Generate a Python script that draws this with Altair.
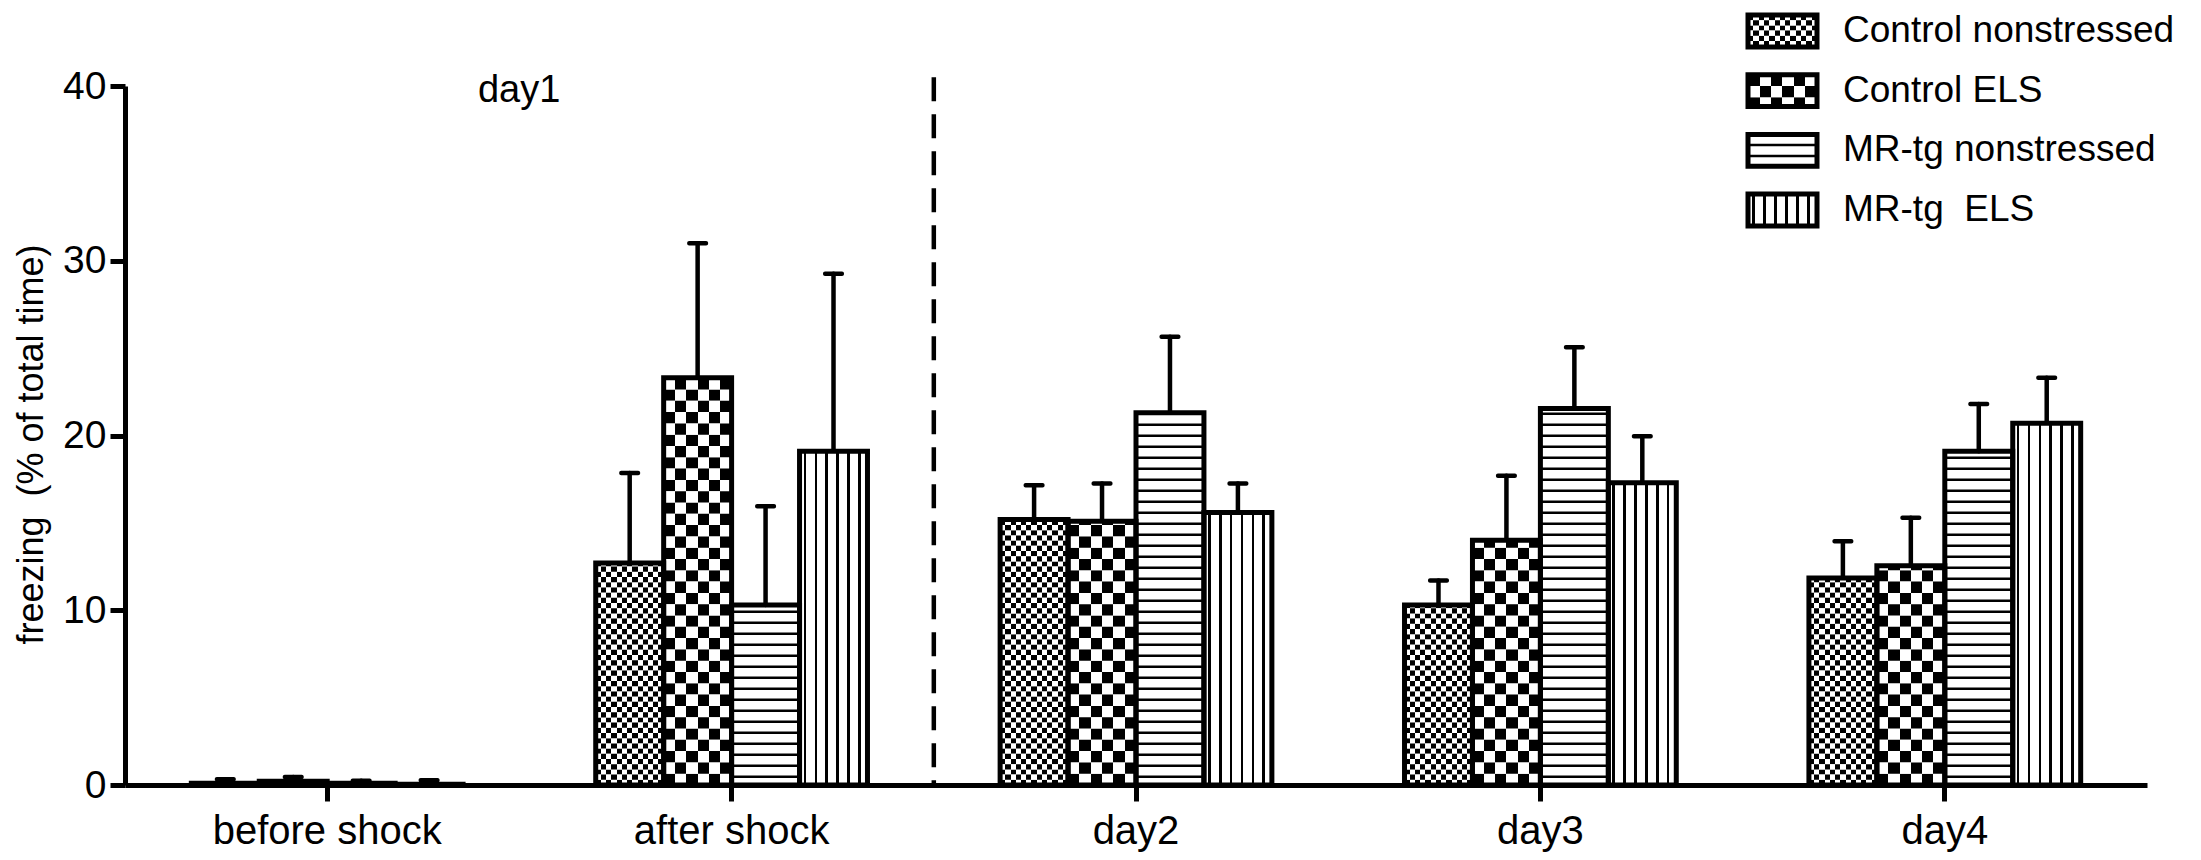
import altair as alt
import pandas as pd

# ---------------- data ----------------
categories = ["before shock", "after shock", "day2", "day3", "day4"]
series = ["Control nonstressed", "Control ELS", "MR-tg nonstressed", "MR-tg \u00a0ELS"]

cn_mean = [0.10, 12.7, 15.2, 10.3, 11.85]
cn_top = [0.33, 17.85, 17.15, 11.7, 13.95]
ce_mean = [0.22, 23.3, 15.1, 14.0, 12.55]
ce_top = [0.46, 31.0, 17.25, 17.7, 15.3]
mn_mean = [0.10, 10.3, 21.3, 21.55, 19.1]
mn_top = [0.25, 15.95, 25.65, 25.05, 21.8]
me_mean = [0.05, 19.1, 15.6, 17.3, 20.7]
me_top = [0.27, 29.25, 17.25, 19.95, 23.3]

y_title = "freezing \u00a0(% of total time)"
y_ticks = [0, 10, 20, 30, 40]
group_label = "day1"

means = [cn_mean, ce_mean, mn_mean, me_mean]
tops = [cn_top, ce_top, mn_top, me_top]

# ---------------- layout constants ----------------
W, H = 2022, 699
PX_MAIN = H / 40.0          # pixels per data unit (main)
PX_LEG = 60.0               # pixels per legend row unit
FONT = "Liberation Sans"

rows = []
for s, m, t in zip(series, means, tops):
    for c, v, tp in zip(categories, m, t):
        rows.append({"cat": c, "series": s, "value": v, "top": tp})
df_main = pd.DataFrame(rows)

# pattern definitions (pixel sizes)
SMALL_PX, SMALL_N = 5.2, 13
BIG_PX, BIG_N = 11.3, 6
LINE_P, LINE_T = 11.0, 2.5


def pattern_rows(kind_idx, lo, hi, ppu, line_off):
    out = []
    if kind_idx in (0, 1):
        step = (SMALL_PX if kind_idx == 0 else BIG_PX) / ppu
        tag = "s" if kind_idx == 0 else "b"
        k = 0
        while lo + k * step < hi - 1e-9:
            out.append({"y0": lo + k * step, "y1": min(lo + (k + 1) * step, hi),
                        "kind": f"{tag}{k % 2}"})
            k += 1
    elif kind_idx == 2:
        p, t, o = LINE_P / ppu, LINE_T / ppu, line_off / ppu
        k = 0
        while lo + o + k * p < hi - 2.0 / ppu:
            out.append({"y0": lo + o + k * p, "y1": min(lo + o + k * p + t, hi),
                        "kind": "hl"})
            k += 1
    else:
        out.append({"y0": lo, "y1": hi, "kind": "vl"})
    return out


pat = []
for i, (s, m) in enumerate(zip(series, means)):
    for c, v in zip(categories, m):
        for r in pattern_rows(i, 0.0, v, PX_MAIN, 7.0):
            r.update({"cat": c, "series": s})
            pat.append(r)
df_pat = pd.DataFrame(pat)

half = 16.0 / PX_LEG
leg = []
legpat = []
for i, s in enumerate(series):
    leg.append({"series": s, "idx": i, "lo": i - half, "hi": i + half})
    for r in pattern_rows(i, i - half, i + half, PX_LEG, 9.5):
        r.update({"series": s})
        legpat.append(r)
df_leg = pd.DataFrame(leg)
df_legpat = pd.DataFrame(legpat)


# ---------------- gradients (fill patterns) ----------------
def checker_grad(n, start_black):
    stops = []
    for i in range(n):
        black = (i % 2 == 0) == start_black
        col = "black" if black else "white"
        stops.append(alt.GradientStop(color=col, offset=i / n))
        stops.append(alt.GradientStop(color=col, offset=(i + 1) / n))
    return alt.LinearGradient(gradient="linear", stops=stops, x1=0, x2=1, y1=0, y2=0)


def vline_grad():
    stops = [alt.GradientStop(color="white", offset=0)]
    h = 0.019
    for k in range(6):
        c = 0.08 + 0.16 * k
        stops += [alt.GradientStop(color="white", offset=c - h),
                  alt.GradientStop(color="black", offset=c - h),
                  alt.GradientStop(color="black", offset=c + h),
                  alt.GradientStop(color="white", offset=c + h)]
    stops.append(alt.GradientStop(color="white", offset=1))
    return alt.LinearGradient(gradient="linear", stops=stops, x1=0, x2=1, y1=0, y2=0)


fills = {
    "s0": checker_grad(SMALL_N, True),
    "s1": checker_grad(SMALL_N, False),
    "b0": checker_grad(BIG_N, True),
    "b1": checker_grad(BIG_N, False),
    "hl": "black",
    "vl": vline_grad(),
}

# ---------------- scales / axes ----------------
xscale = alt.Scale(domain=categories, paddingInner=0.328, paddingOuter=0.164)
offscale = alt.Scale(domain=series, paddingInner=0, paddingOuter=0)
yscale = alt.Scale(domain=[0, 40], nice=False)
xaxis = alt.Axis(title=None, labelAngle=0, labelLimit=0)
yaxis = alt.Axis(values=y_ticks, title=y_title, titleY=358)


def X(**kw):
    return alt.X("cat:N", scale=xscale, axis=xaxis, title=None, **kw)


def XO():
    return alt.XOffset("series:N", scale=offscale)


def Y(field):
    return alt.Y(f"{field}:Q", scale=yscale, axis=yaxis, title=y_title)


err_rule = alt.Chart(df_main).mark_rule(color="black", strokeWidth=4.5, strokeCap="round").encode(
    x=X(), xOffset=XO(), y=Y("value"), y2="top:Q")
err_cap = alt.Chart(df_main).mark_tick(color="black", size=21, thickness=4.5,
                                       cornerRadius=2, opacity=1).encode(
    x=X(), xOffset=XO(), y=Y("top"))

pat_layers = []
for kind, f in fills.items():
    pat_layers.append(
        alt.Chart(df_pat).transform_filter(alt.datum.kind == kind)
        .mark_bar(fill=f, opacity=1)
        .encode(x=X(), xOffset=XO(), y=Y("y0"), y2="y1:Q"))

outline = alt.Chart(df_main).mark_bar(fill="white", fillOpacity=0, stroke="black",
                                      strokeWidth=5).encode(
    x=X(), xOffset=XO(), y=Y("value"))

# divider sits in the middle of the gap before "day2": half the outer gap = 0.244 bandwidth
divider = alt.Chart(pd.DataFrame({"cat": ["day2"]})).mark_rule(
    color="black", strokeWidth=4.5, strokeDash=[24, 13],
    xOffset=alt.ExprRef(expr="-0.244*bandwidth('x')")).encode(
    x=X(bandPosition=0),
    y=alt.YDatum(40.5, scale=yscale, title=y_title),
    y2=alt.Y2Datum(0))

day_text = alt.Chart(pd.DataFrame({"cat": ["after shock"], "label": [group_label]})).mark_text(
    fontSize=38, baseline="alphabetic", align="center", color="black", font=FONT,
    xOffset=alt.ExprRef(expr="-0.282*bandwidth('x')")).encode(
    x=X(bandPosition=0),
    y=alt.YDatum(39.08, scale=yscale, title=y_title),
    text="label:N")

main = alt.layer(err_rule, err_cap, *pat_layers, outline, divider, day_text)

# ---------------- legend (drawn with its own row scale) ----------------
leg_scale = alt.Scale(domain=[0, 3], range=[-55, 124], nice=False, zero=False)
SW_X0, SW_X1, TXT_X = 1623, 1692, 1718

leg_layers = []
for kind, f in fills.items():
    leg_layers.append(
        alt.Chart(df_legpat).transform_filter(alt.datum.kind == kind)
        .mark_rect(fill=f, opacity=1)
        .encode(x=alt.value(SW_X0), x2=alt.value(SW_X1),
                y=alt.Y("y0:Q", scale=leg_scale, axis=None), y2="y1:Q"))
leg_box = alt.Chart(df_leg).mark_rect(fill="white", fillOpacity=0, stroke="black",
                                      strokeWidth=5).encode(
    x=alt.value(SW_X0), x2=alt.value(SW_X1),
    y=alt.Y("lo:Q", scale=leg_scale, axis=None), y2="hi:Q")
leg_text = alt.Chart(df_leg).mark_text(align="left", baseline="middle", fontSize=37,
                                       color="black", font=FONT).encode(
    x=alt.value(TXT_X), y=alt.Y("idx:Q", scale=leg_scale, axis=None), text="series:N")

legend = alt.layer(*leg_layers, leg_box, leg_text)

chart = (
    alt.layer(main, legend)
    .resolve_scale(y="independent")
    .properties(width=W, height=H, autosize=alt.AutoSizeParams(type="none"),
                padding={"left": 117, "top": 78, "right": 46, "bottom": 67},
                background="white")
    .configure(font=FONT)
    .configure_view(strokeWidth=0)
    .configure_axis(domainColor="black", tickColor="black", labelColor="black",
                    titleColor="black", grid=False, labelFont=FONT, titleFont=FONT)
    .configure_axisX(domainWidth=5, tickWidth=5, tickSize=16, labelFontSize=40,
                     labelPadding=10, labelLimit=0)
    .configure_axisY(domainWidth=5, tickWidth=5, tickSize=15, labelFontSize=39,
                     labelPadding=4, titleFontSize=36, titleFontWeight="normal",
                     titlePadding=12)
)

chart.save("out.html", embed_options={"renderer": "svg", "actions": False})
